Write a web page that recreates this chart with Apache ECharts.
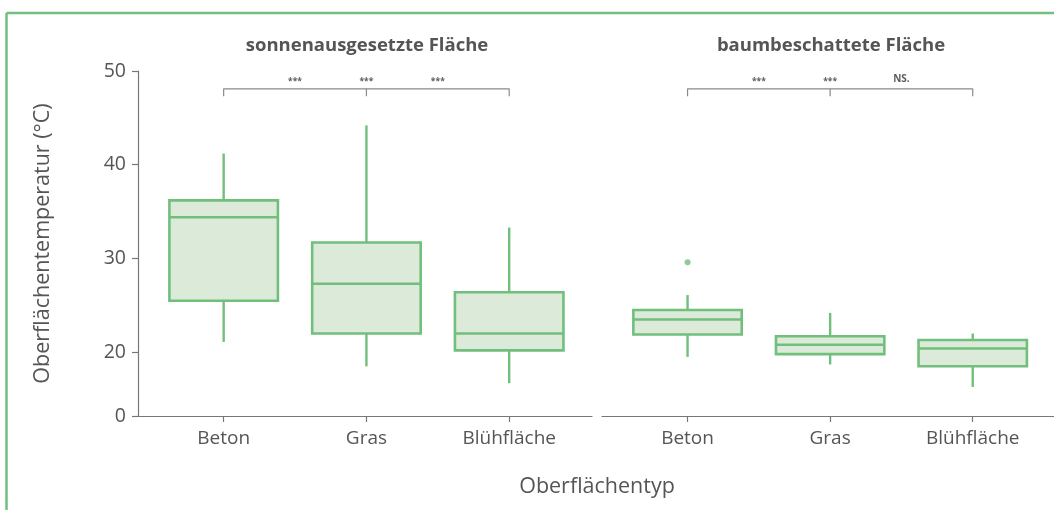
<!DOCTYPE html>
<html>
<head>
<meta charset="utf-8">
<script src="https://cdn.jsdelivr.net/npm/echarts@6/dist/echarts.min.js"></script>
<style>
html,body{margin:0;padding:0;background:#fff;}
#chart{width:1054px;height:510px;}
</style>
</head>
<body>
<div id="chart"></div>
<script>
// ---- data ----
const categories = ['Beton', 'Gras', 'Blühfläche'];
const panelTitles = ['sonnenausgesetzte Fläche', 'baumbeschattete Fläche'];
// [position, min, Q1, median, Q3, max]
const sunBoxes = [
  [0, 21.1, 25.5, 34.4, 36.2, 41.2],
  [1, 18.5, 22.0, 27.3, 31.7, 44.2],
  [2, 16.7, 20.2, 22.0, 26.4, 33.3]
];
const shadeBoxes = [
  [0, 19.5, 21.9, 23.5, 24.5, 26.1],
  [1, 18.7, 19.8, 20.8, 21.7, 24.2],
  [2, 16.3, 18.5, 20.4, 21.3, 22.0]
];
const shadeOutliers = [[0, 29.6]];
const yTickValues = [13.2, 20, 30, 40, 50];
const yTickLabels = ['0', '20', '30', '40', '50'];
const yMin = 13.2, yMax = 50;
const sunSig = [{value: [0.5, 48.9], name: '***'}, {value: [1, 48.9], name: '***'}, {value: [1.5, 48.9], name: '***'}];
const shadeSig = [{value: [0.5, 48.9], name: '***'}, {value: [1, 48.9], name: '***'}, {value: [1.5, 49.1], name: 'NS.'}];
const bracketOuter = [[0, 47.3], [0, 48.1], [2, 48.1], [2, 47.3]];
const bracketMid = [[1, 48.1], [1, 47.3]];

// ---- style ----
const green = '#72bf7d';
const fill = '#dcebd9';
const txt = '#555555';
const font = 'Open Sans';
const boxRatio = 0.76;

const chart = echarts.init(document.getElementById('chart'), null, {renderer: 'canvas'});

function xAxisFor(gi) {
  return {
    type: 'value', gridIndex: gi, min: -0.6, max: gi === 0 ? 2.58 : 2.57,
    splitLine: {show: false},
    axisLine: {show: true, onZero: false, lineStyle: {color: '#777', width: 1.2}},
    axisTick: {show: true, customValues: [0, 1, 2], length: 6, lineStyle: {color: '#777', width: 1.2}},
    axisLabel: {customValues: [0, 1, 2], formatter: v => categories[Math.round(v)], color: txt, fontSize: 19, fontFamily: font, margin: 13}
  };
}
function yAxisFor(gi) {
  return {
    type: 'value', gridIndex: gi, min: yMin, max: yMax,
    splitLine: {show: false},
    axisLine: {show: gi === 0, onZero: false, lineStyle: {color: '#777', width: 1.2}},
    axisTick: {show: gi === 0, customValues: yTickValues, length: 6, lineStyle: {color: '#777', width: 1.2}},
    axisLabel: {show: gi === 0, customValues: yTickValues, formatter: v => {const i = yTickValues.indexOf(v); return i >= 0 ? yTickLabels[i] : '';}, color: txt, fontSize: 19.5, fontFamily: font, margin: 12},
    name: gi === 0 ? 'Oberflächentemperatur (°C)' : '',
    nameLocation: 'middle', nameGap: 84,
    nameTextStyle: {color: txt, fontSize: 21.5, fontFamily: font}
  };
}
function boxSeries(gi, data) {
  return {
    type: 'custom', xAxisIndex: gi, yAxisIndex: gi, data: data, silent: true,
    encode: {x: 0, y: [1, 2, 3, 4, 5]},
    renderItem: function (params, api) {
      const x = api.value(0);
      const pMin = api.coord([x, api.value(1)]);
      const pQ1 = api.coord([x, api.value(2)]);
      const pMed = api.coord([x, api.value(3)]);
      const pQ3 = api.coord([x, api.value(4)]);
      const pMax = api.coord([x, api.value(5)]);
      const half = api.size([1, 0])[0] * boxRatio / 2;
      const cx = pMed[0];
      const lineStyle = {stroke: green, lineWidth: 2.4};
      return {
        type: 'group',
        children: [
          {type: 'line', shape: {x1: cx, y1: pMax[1], x2: cx, y2: pQ3[1]}, style: lineStyle},
          {type: 'line', shape: {x1: cx, y1: pQ1[1], x2: cx, y2: pMin[1]}, style: lineStyle},
          {type: 'rect', shape: {x: cx - half, y: pQ3[1], width: half * 2, height: pQ1[1] - pQ3[1]}, style: {fill: fill, stroke: green, lineWidth: 2.6}},
          {type: 'line', shape: {x1: cx - half, y1: pMed[1], x2: cx + half, y2: pMed[1]}, style: {stroke: green, lineWidth: 2.6}}
        ]
      };
    }
  };
}
function lineSeries(gi, data) {
  return {
    type: 'line', xAxisIndex: gi, yAxisIndex: gi, data: data, symbol: 'none',
    lineStyle: {color: '#8a8a8a', width: 1.2}, silent: true, z: 1
  };
}
function sigSeries(gi, data) {
  return {
    type: 'scatter', xAxisIndex: gi, yAxisIndex: gi, data: data, symbolSize: 0,
    label: {show: true, position: 'inside', formatter: '{b}', color: '#333', fontSize: 8.5, fontWeight: 'bold', fontFamily: font},
    silent: true
  };
}

chart.setOption({
  animation: false,
  backgroundColor: '#fff',
  grid: [
    {left: 138, right: 462, top: 71, bottom: 94},
    {left: 602, right: 0, top: 71, bottom: 94}
  ],
  title: [
    {text: panelTitles[0], left: 362, top: 31, textAlign: 'center', textStyle: {color: txt, fontSize: 18.5, fontWeight: 'bold', fontFamily: font}},
    {text: panelTitles[1], left: 826, top: 31, textAlign: 'center', textStyle: {color: txt, fontSize: 18.5, fontWeight: 'bold', fontFamily: font}},
    {text: 'Oberflächentyp', left: 592, top: 471, textAlign: 'center', textStyle: {color: txt, fontSize: 21.5, fontWeight: 'normal', fontFamily: font}}
  ],
  xAxis: [xAxisFor(0), xAxisFor(1)],
  yAxis: [yAxisFor(0), yAxisFor(1)],
  graphic: [
    {type: 'line', shape: {x1: 6.5, y1: 13, x2: 1054, y2: 13}, style: {stroke: green, lineWidth: 2.5}, silent: true},
    {type: 'line', shape: {x1: 6.5, y1: 13, x2: 6.5, y2: 510}, style: {stroke: green, lineWidth: 2.5}, silent: true}
  ],
  series: [
    boxSeries(0, sunBoxes),
    boxSeries(1, shadeBoxes),
    {type: 'scatter', xAxisIndex: 1, yAxisIndex: 1, data: shadeOutliers, symbolSize: 6, itemStyle: {color: green}, silent: true},
    lineSeries(0, bracketOuter), lineSeries(0, bracketMid),
    lineSeries(1, bracketOuter), lineSeries(1, bracketMid),
    sigSeries(0, sunSig),
    Object.assign(sigSeries(1, shadeSig), {
      data: shadeSig.map(d => d.name === 'NS.' ? Object.assign({}, d, {label: {fontSize: 10}}) : d)
    })
  ]
});
</script>
</body>
</html>
